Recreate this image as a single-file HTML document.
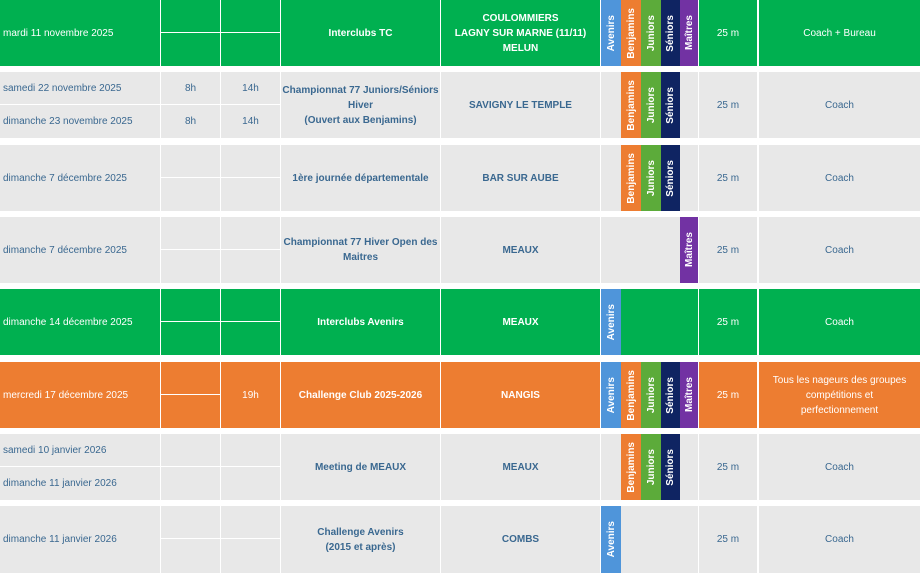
<!DOCTYPE html>
<html><head><meta charset="utf-8"><style>
*{margin:0;padding:0;box-sizing:border-box}
body{width:920px;height:573px;background:#fff;position:relative;overflow:hidden;font-family:"Liberation Sans",sans-serif}
.r{position:absolute;left:0;width:920px;height:66px}
.c{position:absolute;display:flex;align-items:center;justify-content:center;text-align:center;font-size:10px;line-height:15px;color:#3a6890;background:#e8e8e8}
.g .c{background:#00b050;color:#fff}
.o .c{background:#ed7d31;color:#fff}
.l{justify-content:flex-start;padding-left:3px}
.b{font-weight:bold}
.s{position:absolute;top:0;height:66px;display:flex;align-items:center;justify-content:center}
.s span{writing-mode:vertical-rl;transform:rotate(180deg);font-weight:bold;color:#fff;font-size:10px}
.av{background:#4f95da}.be{background:#ed7d31}.ju{background:#5cab3a}.se{background:#0f2462}.ma{background:#7232a3}
</style></head><body>

<!-- row 1 -->
<div class="r g" style="top:0">
<div class="c l" style="left:0;width:160px;top:0;height:66px">mardi 11 novembre 2025</div>
<div class="c" style="left:161px;width:59px;top:0;height:32px"></div><div class="c" style="left:161px;width:59px;top:33px;height:33px"></div>
<div class="c" style="left:221px;width:59px;top:0;height:32px"></div><div class="c" style="left:221px;width:59px;top:33px;height:33px"></div>
<div class="c b" style="left:281px;width:159px;top:0;height:66px">Interclubs TC</div>
<div class="c b" style="left:441px;width:159px;top:0;height:66px">COULOMMIERS<br>LAGNY SUR MARNE (11/11)<br>MELUN</div>
<div class="c" style="left:601px;width:97px;top:0;height:66px"></div>
<div class="s av" style="left:601px;width:20px"><span>Avenirs</span></div>
<div class="s be" style="left:621px;width:20px"><span>Benjamins</span></div>
<div class="s ju" style="left:641px;width:20px"><span>Juniors</span></div>
<div class="s se" style="left:661px;width:19px"><span>Séniors</span></div>
<div class="s ma" style="left:680px;width:18px"><span>Maîtres</span></div>
<div class="c" style="left:699px;width:58px;top:0;height:66px">25 m</div>
<div class="c" style="left:759px;width:161px;top:0;height:66px">Coach + Bureau</div>
</div>

<!-- row 2 -->
<div class="r" style="top:72px">
<div class="c l" style="left:0;width:160px;top:0;height:32px">samedi 22 novembre 2025</div>
<div class="c l" style="left:0;width:160px;top:33px;height:33px">dimanche 23 novembre 2025</div>
<div class="c" style="left:161px;width:59px;top:0;height:32px">8h</div><div class="c" style="left:161px;width:59px;top:33px;height:33px">8h</div>
<div class="c" style="left:221px;width:59px;top:0;height:32px">14h</div><div class="c" style="left:221px;width:59px;top:33px;height:33px">14h</div>
<div class="c b" style="left:281px;width:159px;top:0;height:66px">Championnat 77 Juniors/Séniors<br>Hiver<br>(Ouvert aux Benjamins)</div>
<div class="c b" style="left:441px;width:159px;top:0;height:66px">SAVIGNY LE TEMPLE</div>
<div class="c" style="left:601px;width:97px;top:0;height:66px"></div>
<div class="s be" style="left:621px;width:20px"><span>Benjamins</span></div>
<div class="s ju" style="left:641px;width:20px"><span>Juniors</span></div>
<div class="s se" style="left:661px;width:19px"><span>Séniors</span></div>
<div class="c" style="left:699px;width:58px;top:0;height:66px">25 m</div>
<div class="c" style="left:759px;width:161px;top:0;height:66px">Coach</div>
</div>

<!-- row 3 -->
<div class="r" style="top:145px">
<div class="c l" style="left:0;width:160px;top:0;height:66px">dimanche 7 décembre 2025</div>
<div class="c" style="left:161px;width:59px;top:0;height:32px"></div><div class="c" style="left:161px;width:59px;top:33px;height:33px"></div>
<div class="c" style="left:221px;width:59px;top:0;height:32px"></div><div class="c" style="left:221px;width:59px;top:33px;height:33px"></div>
<div class="c b" style="left:281px;width:159px;top:0;height:66px">1ère journée départementale</div>
<div class="c b" style="left:441px;width:159px;top:0;height:66px">BAR SUR AUBE</div>
<div class="c" style="left:601px;width:97px;top:0;height:66px"></div>
<div class="s be" style="left:621px;width:20px"><span>Benjamins</span></div>
<div class="s ju" style="left:641px;width:20px"><span>Juniors</span></div>
<div class="s se" style="left:661px;width:19px"><span>Séniors</span></div>
<div class="c" style="left:699px;width:58px;top:0;height:66px">25 m</div>
<div class="c" style="left:759px;width:161px;top:0;height:66px">Coach</div>
</div>

<!-- row 4 -->
<div class="r" style="top:217px">
<div class="c l" style="left:0;width:160px;top:0;height:66px">dimanche 7 décembre 2025</div>
<div class="c" style="left:161px;width:59px;top:0;height:32px"></div><div class="c" style="left:161px;width:59px;top:33px;height:33px"></div>
<div class="c" style="left:221px;width:59px;top:0;height:32px"></div><div class="c" style="left:221px;width:59px;top:33px;height:33px"></div>
<div class="c b" style="left:281px;width:159px;top:0;height:66px">Championnat 77 Hiver Open des<br>Maitres</div>
<div class="c b" style="left:441px;width:159px;top:0;height:66px">MEAUX</div>
<div class="c" style="left:601px;width:97px;top:0;height:66px"></div>
<div class="s ma" style="left:680px;width:18px"><span>Maîtres</span></div>
<div class="c" style="left:699px;width:58px;top:0;height:66px">25 m</div>
<div class="c" style="left:759px;width:161px;top:0;height:66px">Coach</div>
</div>

<!-- row 5 -->
<div class="r g" style="top:289px">
<div class="c l" style="left:0;width:160px;top:0;height:66px">dimanche 14 décembre 2025</div>
<div class="c" style="left:161px;width:59px;top:0;height:32px"></div><div class="c" style="left:161px;width:59px;top:33px;height:33px"></div>
<div class="c" style="left:221px;width:59px;top:0;height:32px"></div><div class="c" style="left:221px;width:59px;top:33px;height:33px"></div>
<div class="c b" style="left:281px;width:159px;top:0;height:66px">Interclubs Avenirs</div>
<div class="c b" style="left:441px;width:159px;top:0;height:66px">MEAUX</div>
<div class="c" style="left:601px;width:97px;top:0;height:66px"></div>
<div class="s av" style="left:601px;width:20px"><span>Avenirs</span></div>
<div class="c" style="left:699px;width:58px;top:0;height:66px">25 m</div>
<div class="c" style="left:759px;width:161px;top:0;height:66px">Coach</div>
</div>

<!-- row 6 -->
<div class="r o" style="top:362px">
<div class="c l" style="left:0;width:160px;top:0;height:66px">mercredi 17 décembre 2025</div>
<div class="c" style="left:161px;width:59px;top:0;height:32px"></div><div class="c" style="left:161px;width:59px;top:33px;height:33px"></div>
<div class="c" style="left:221px;width:59px;top:0;height:66px">19h</div>
<div class="c b" style="left:281px;width:159px;top:0;height:66px">Challenge Club 2025-2026</div>
<div class="c b" style="left:441px;width:159px;top:0;height:66px">NANGIS</div>
<div class="c" style="left:601px;width:97px;top:0;height:66px"></div>
<div class="s av" style="left:601px;width:20px"><span>Avenirs</span></div>
<div class="s be" style="left:621px;width:20px"><span>Benjamins</span></div>
<div class="s ju" style="left:641px;width:20px"><span>Juniors</span></div>
<div class="s se" style="left:661px;width:19px"><span>Séniors</span></div>
<div class="s ma" style="left:680px;width:18px"><span>Maîtres</span></div>
<div class="c" style="left:699px;width:58px;top:0;height:66px">25 m</div>
<div class="c" style="left:759px;width:161px;top:0;height:66px">Tous les nageurs des groupes<br>compétitions et<br>perfectionnement</div>
</div>

<!-- row 7 -->
<div class="r" style="top:434px">
<div class="c l" style="left:0;width:160px;top:0;height:32px">samedi 10 janvier 2026</div>
<div class="c l" style="left:0;width:160px;top:33px;height:33px">dimanche 11 janvier 2026</div>
<div class="c" style="left:161px;width:59px;top:0;height:32px"></div><div class="c" style="left:161px;width:59px;top:33px;height:33px"></div>
<div class="c" style="left:221px;width:59px;top:0;height:32px"></div><div class="c" style="left:221px;width:59px;top:33px;height:33px"></div>
<div class="c b" style="left:281px;width:159px;top:0;height:66px">Meeting de MEAUX</div>
<div class="c b" style="left:441px;width:159px;top:0;height:66px">MEAUX</div>
<div class="c" style="left:601px;width:97px;top:0;height:66px"></div>
<div class="s be" style="left:621px;width:20px"><span>Benjamins</span></div>
<div class="s ju" style="left:641px;width:20px"><span>Juniors</span></div>
<div class="s se" style="left:661px;width:19px"><span>Séniors</span></div>
<div class="c" style="left:699px;width:58px;top:0;height:66px">25 m</div>
<div class="c" style="left:759px;width:161px;top:0;height:66px">Coach</div>
</div>

<!-- row 8 -->
<div class="r" style="top:506px;height:67px">
<div class="c l" style="left:0;width:160px;top:0;height:67px">dimanche 11 janvier 2026</div>
<div class="c" style="left:161px;width:59px;top:0;height:32px"></div><div class="c" style="left:161px;width:59px;top:33px;height:34px"></div>
<div class="c" style="left:221px;width:59px;top:0;height:32px"></div><div class="c" style="left:221px;width:59px;top:33px;height:34px"></div>
<div class="c b" style="left:281px;width:159px;top:0;height:67px">Challenge Avenirs<br>(2015 et après)</div>
<div class="c b" style="left:441px;width:159px;top:0;height:67px">COMBS</div>
<div class="c" style="left:601px;width:97px;top:0;height:67px"></div>
<div class="s av" style="left:601px;width:20px;height:67px"><span>Avenirs</span></div>
<div class="c" style="left:699px;width:58px;top:0;height:67px">25 m</div>
<div class="c" style="left:759px;width:161px;top:0;height:67px">Coach</div>
</div>

</body></html>
